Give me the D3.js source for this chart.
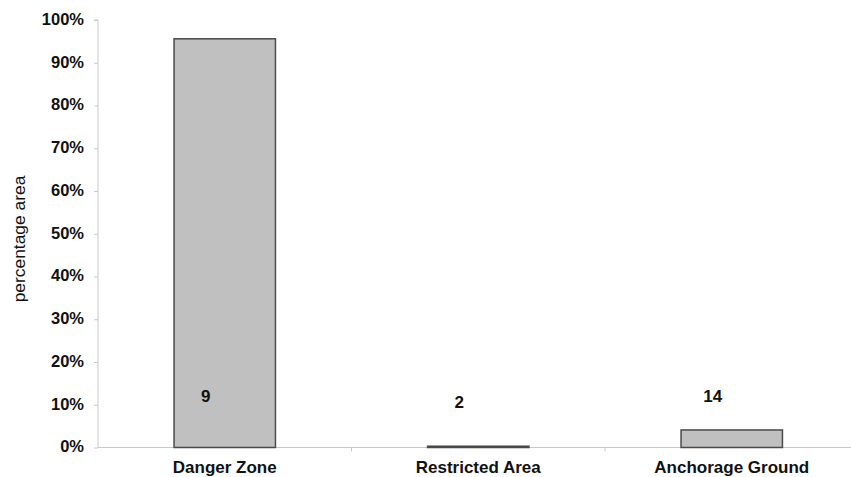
<!DOCTYPE html>
<html>
<head>
<meta charset="utf-8">
<script src="https://cdn.jsdelivr.net/npm/d3@7/dist/d3.min.js"></script>
<style>
  body { margin: 0; background: #fff; }
  svg { display: block; }
  text { font-family: "Liberation Sans", Arial, sans-serif; fill: #111; }
</style>
</head>
<body>
<svg id="chart" width="851" height="477"></svg>
<script>
// ---- data ----
const categories = ["Danger Zone", "Restricted Area", "Anchorage Ground"];
const percentArea = [0.956, 0.003, 0.041];
const counts = ["9", "2", "14"];
const yTickValues = [0, 0.1, 0.2, 0.3, 0.4, 0.5, 0.6, 0.7, 0.8, 0.9, 1.0];
const yTitle = "percentage area";

// ---- layout ----
const W = 851, H = 477;
const x0 = 98, x1 = 858.5, yBottom = 447.5, yTop = 20;
const countLabelDy = [0, 6, 0];

const svg = d3.select("#chart");

const x = d3.scaleBand().domain(categories).range([x0, x1]).paddingInner(0.6).paddingOuter(0.3);
const y = d3.scaleLinear().domain([0, 1]).range([yBottom, yTop]);

// y axis
const yAxis = d3.axisLeft(y).tickValues(yTickValues).tickFormat(d3.format(".0%")).tickSize(4).tickPadding(10);
const gy = svg.append("g").attr("transform", `translate(${x0},0)`).call(yAxis);
gy.select(".domain").attr("stroke", "#c8c8c8").attr("d", `M-4,${yTop}H0V${yBottom}`);
gy.selectAll(".tick line").attr("stroke", "#c8c8c8");
gy.selectAll(".tick text").attr("font-size", "16.5px").attr("font-weight", "bold")
  .attr("font-family", "'Liberation Sans', Arial, sans-serif").attr("fill", "#111").attr("dy", "0.27em");

// x axis (category separators)
const step = x.step();
const boundaries = [];
for (let i = 1; i < categories.length; i++) boundaries.push(x(categories[i]) - x.paddingInner() * step / 2);
const gx = svg.append("g");
gx.append("line").attr("x1", x0).attr("x2", W).attr("y1", yBottom).attr("y2", yBottom).attr("stroke", "#c8c8c8").attr("stroke-width", 1);
gx.selectAll("line.sep").data(boundaries).join("line").attr("class", "sep")
  .attr("x1", d => d).attr("x2", d => d).attr("y1", yBottom).attr("y2", yBottom + 4).attr("stroke", "#c8c8c8");
gx.selectAll("text.cat").data(categories).join("text").attr("class", "cat")
  .attr("x", d => x(d) + x.bandwidth() / 2).attr("y", 473)
  .attr("text-anchor", "middle").attr("font-size", "17px").attr("font-weight", "bold").text(d => d);

// bars
svg.append("g").selectAll("rect").data(categories).join("rect")
  .attr("x", d => x(d))
  .attr("y", (d, i) => y(percentArea[i]))
  .attr("width", x.bandwidth())
  .attr("height", (d, i) => yBottom - y(percentArea[i]))
  .attr("fill", "#c0c0c0").attr("stroke", "#4a4a4a").attr("stroke-width", 1.5);

// count labels
svg.append("g").selectAll("text").data(categories).join("text")
  .attr("x", d => x(d) + x.bandwidth() / 2 - 19)
  .attr("y", (d, i) => 402 + countLabelDy[i])
  .attr("text-anchor", "middle").attr("font-size", "17px").attr("font-weight", "bold")
  .text((d, i) => counts[i]);

// y title
svg.append("text").attr("transform", `translate(24.5,239) rotate(-90)`)
  .attr("text-anchor", "middle").attr("font-size", "17.4px").text(yTitle);
</script>
</body>
</html>
